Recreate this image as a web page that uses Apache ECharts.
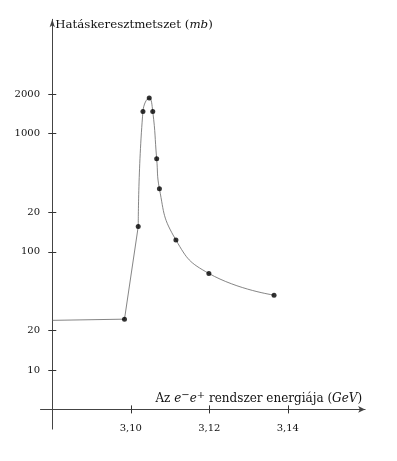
<!DOCTYPE html>
<html>
<head>
<meta charset="utf-8">
<script src="https://cdn.jsdelivr.net/npm/echarts@6/dist/echarts.min.js"></script>
<style>
  html, body { margin: 0; padding: 0; background: #fff; }
  #chart { width: 397px; height: 461px; }
</style>
</head>
<body>
<div id="chart"></div>
<script>
// Adatok
var x0 = 3.08; // a függőleges tengely helye (GeV)
var curveStart = [3.0800, 2.26];
var energy = [3.0984, 3.1019, 3.1031, 3.1047, 3.1056, 3.1066, 3.1073, 3.1115, 3.1199, 3.1365];
// pozíció a rajzolt y skálán (tengelyosztások egységében)
var sigmaPos = [2.29, 4.64, 7.56, 7.90, 7.56, 6.36, 5.60, 4.30, 3.45, 2.90];
var xTicks = [3.10, 3.12, 3.14];
var yTickPos = [1, 2, 4, 5, 7, 8];
var yTickLabels = ['10', '20', '100', '20', '1000', '2000'];

var font = 'DejaVu Serif';
var xs = energy.map(function (e) { return +(e - x0).toFixed(5); });
var pts = xs.map(function (x, i) { return [x, sigmaPos[i]]; });
var straight = [[+(curveStart[0] - x0).toFixed(5), curveStart[1]], pts[0], pts[1]];
var smoothPart = pts.slice(1);
var xTickVals = xTicks.map(function (v) { return +(v - x0).toFixed(5); });

var xMin = -0.003, xMax = 0.0797, yMin = -0.5, yMax = 9.9;

option = {
    animation: false,
    grid: { left: 40.5, right: 31.9, top: 19.3, bottom: 31.9, containLabel: false },
    xAxis: [
        {
            type: 'value', min: xMin, max: xMax, position: 'bottom',
            axisLine: { onZero: true, onZeroAxisIndex: 0, symbol: ['none', 'arrow'], symbolSize: [5, 7],
                lineStyle: { color: '#444', width: 1 } },
            axisTick: { show: true, customValues: xTickVals, length: 4, lineStyle: { color: '#333' } },
            axisLabel: {
                customValues: xTickVals, margin: -6, color: '#111', fontFamily: font, fontSize: 10,
                formatter: function (v) { return (v + x0).toFixed(2).replace('.', ','); }
            },
            splitLine: { show: false },
            name: 'Az {i|e}{s|−}{i|e}{s|+} rendszer energiája ({i|GeV})',
            nameLocation: 'end', nameGap: -3,
            nameTextStyle: {
                align: 'right', verticalAlign: 'bottom', padding: [0, 0, 2, 0],
                color: '#111', fontFamily: font, fontSize: 12, lineHeight: 17,
                rich: {
                    i: { fontStyle: 'italic', fontFamily: font, fontSize: 12, color: '#111', lineHeight: 17 },
                    s: { fontFamily: font, fontSize: 10, color: '#111', lineHeight: 12, verticalAlign: 'top' }
                }
            }
        },
        {
            type: 'value', min: xMin, max: xMax, position: 'top',
            axisLine: { show: false, onZero: true, onZeroAxisIndex: 0 },
            axisTick: { show: true, customValues: xTickVals, length: 4, lineStyle: { color: '#333' } },
            axisLabel: { show: false },
            splitLine: { show: false }
        }
    ],
    yAxis: [
        {
            type: 'value', min: yMin, max: yMax, position: 'left',
            axisLine: { onZero: true, onZeroAxisIndex: 0, symbol: ['none', 'arrow'], symbolSize: [4, 8],
                lineStyle: { color: '#444', width: 1 } },
            axisTick: { show: true, customValues: yTickPos, length: 4, lineStyle: { color: '#333' } },
            axisLabel: {
                customValues: yTickPos, margin: 0.5, color: '#111', fontFamily: font, fontSize: 10,
                formatter: function (v) { return yTickLabels[yTickPos.indexOf(Math.round(v))]; }
            },
            splitLine: { show: false },
            name: 'Hatáskeresztmetszet ({i|mb})',
            nameLocation: 'end', nameGap: -6,
            nameTextStyle: {
                align: 'left', verticalAlign: 'middle', padding: [0, 0, 0, 3],
                color: '#111', fontFamily: font, fontSize: 11.8,
                rich: { i: { fontStyle: 'italic', fontFamily: font, fontSize: 11.8, color: '#111' } }
            }
        },
        {
            type: 'value', min: yMin, max: yMax, position: 'right',
            axisLine: { show: false, onZero: true, onZeroAxisIndex: 0 },
            axisTick: { show: true, customValues: yTickPos, length: 4, lineStyle: { color: '#333' } },
            axisLabel: { show: false },
            splitLine: { show: false }
        }
    ],
    series: [
        {
            type: 'line', data: straight, showSymbol: false, smooth: false,
            lineStyle: { color: '#666', width: 0.8 }, z: 2
        },
        {
            type: 'line', data: smoothPart, showSymbol: false, smooth: 0.5,
            lineStyle: { color: '#666', width: 0.8 }, z: 2
        },
        {
            type: 'scatter', data: pts, symbol: 'circle', symbolSize: 5,
            itemStyle: { color: '#000' }, z: 3
        }
    ]
};

var myChart = echarts.init(document.getElementById('chart'));
myChart.setOption(option);
</script>
</body>
</html>
